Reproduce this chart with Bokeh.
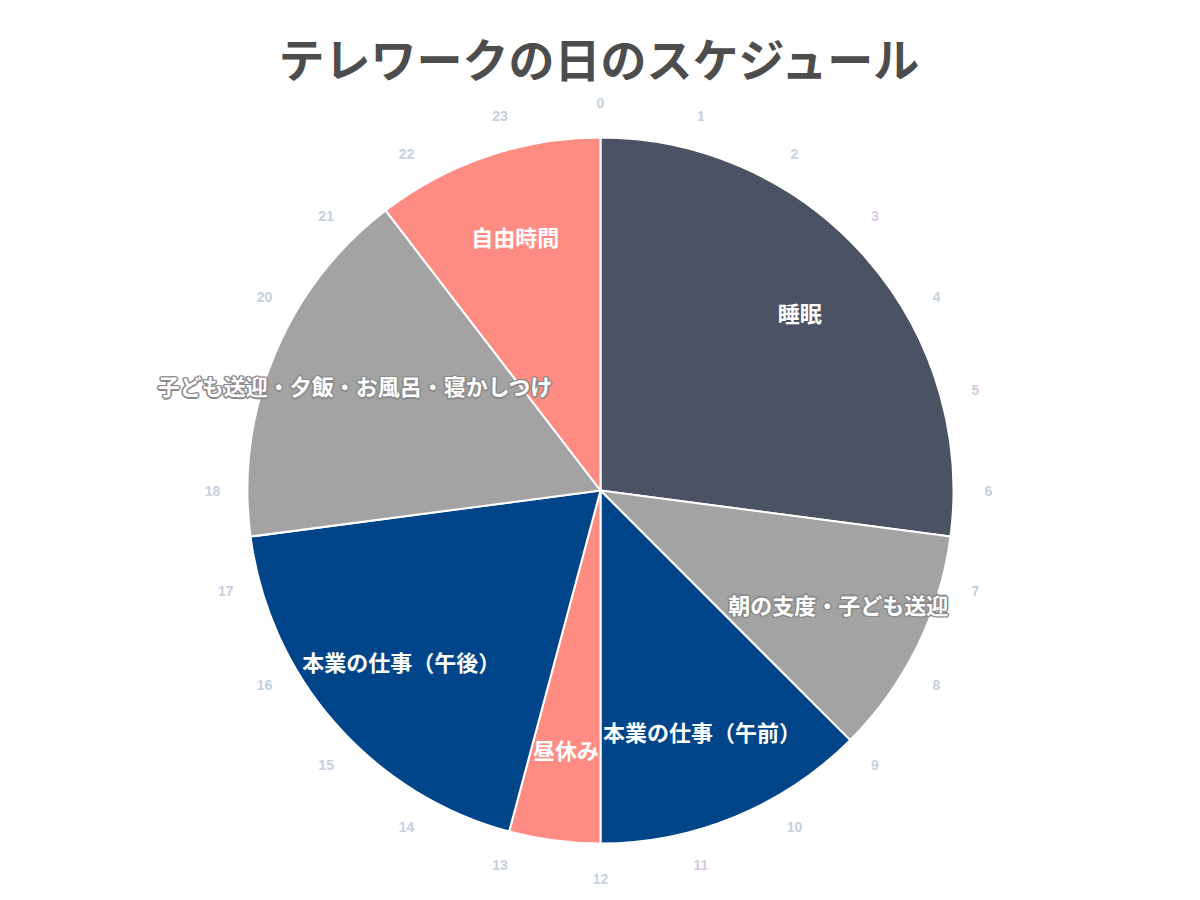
import math

from bokeh.plotting import figure
from bokeh.models import ColumnDataSource, Range1d
from bokeh.core.properties import value
from bokeh.embed import file_html
from bokeh.resources import INLINE

title = "テレワークの日のスケジュール"
activities = ["睡眠", "朝の支度・子ども送迎", "本業の仕事（午前）", "昼休み",
              "本業の仕事（午後）", "子ども送迎・夕飯・お風呂・寝かしつけ", "自由時間"]
hours = [6.5, 2.5, 3, 1, 4.5, 4, 2.5]
colors = ["#4b5263", "#a3a3a3", "#00458a", "#ff8c82", "#00458a", "#a3a3a3", "#ff8c82"]
outline = ["#4b5263", "#8a8a8a", "#00458a", "#ff8c82", "#00458a", "#8a8a8a", "#ff8c82"]
clock_labels = [str(h) for h in range(24)]

FONT = "Noto Sans CJK JP"
R = 353
LABEL_R = 265
CLOCK_R = 388


def hour_angle(h):
    return math.pi / 2 - h * 2 * math.pi / 24


def main():
    p = figure(width=1184, height=892, output_backend="svg", toolbar_location=None,
               x_range=Range1d(-600, 584), y_range=Range1d(-402, 490), min_border=0)
    p.axis.visible = False
    p.grid.visible = False
    p.outline_line_color = None

    starts, ends = [], []
    acc = 0
    for h in hours:
        starts.append(acc)
        acc += h
        ends.append(acc)

    src = ColumnDataSource(dict(
        start=[hour_angle(s) for s in starts],
        end=[hour_angle(e) for e in ends],
        color=colors,
    ))
    p.wedge(x=0, y=0, radius=R, start_angle="start", end_angle="end", direction="clock",
            fill_color="color", line_color="white", line_width=2, source=src)

    # clock face numbers
    cx = [CLOCK_R * math.cos(hour_angle(i)) for i in range(24)]
    cy = [CLOCK_R * math.sin(hour_angle(i)) for i in range(24)]
    p.text(x=cx, y=cy, text=clock_labels, text_font=value("Liberation Sans"),
           text_font_size="14px", text_font_style="bold", text_color="#c6d0e0",
           text_align="center", text_baseline="middle")

    # slice labels, with a thin outline in the slice colour
    mids = [(s + e) / 2 for s, e in zip(starts, ends)]
    lx = [LABEL_R * math.cos(hour_angle(m)) for m in mids]
    ly = [LABEL_R * math.sin(hour_angle(m)) for m in mids]
    lab = ColumnDataSource(dict(x=lx, y=ly, text=activities, oc=outline))
    for dx, dy in [(-1.5, 0), (1.5, 0), (0, -1.5), (0, 1.5),
                   (-1.1, -1.1), (1.1, 1.1), (-1.1, 1.1), (1.1, -1.1)]:
        p.text(x="x", y="y", text="text", source=lab, x_offset=dx, y_offset=dy - 4,
               text_font=value(FONT), text_font_size="22px", text_font_style="bold",
               text_color="oc", text_align="center", text_baseline="middle")
    p.text(x="x", y="y", text="text", source=lab, y_offset=-4, text_font=value(FONT),
           text_font_size="22px", text_font_style="bold", text_color="white",
           text_align="center", text_baseline="middle")

    p.text(x=[0], y=[434], text=[title], text_font=value(FONT), text_font_size="46px",
           text_font_style="bold", text_color="#4d4d4d", text_align="center",
           text_baseline="middle")

    open("out.html", "w").write(file_html(p, INLINE))


if __name__ == "__main__":
    main()
